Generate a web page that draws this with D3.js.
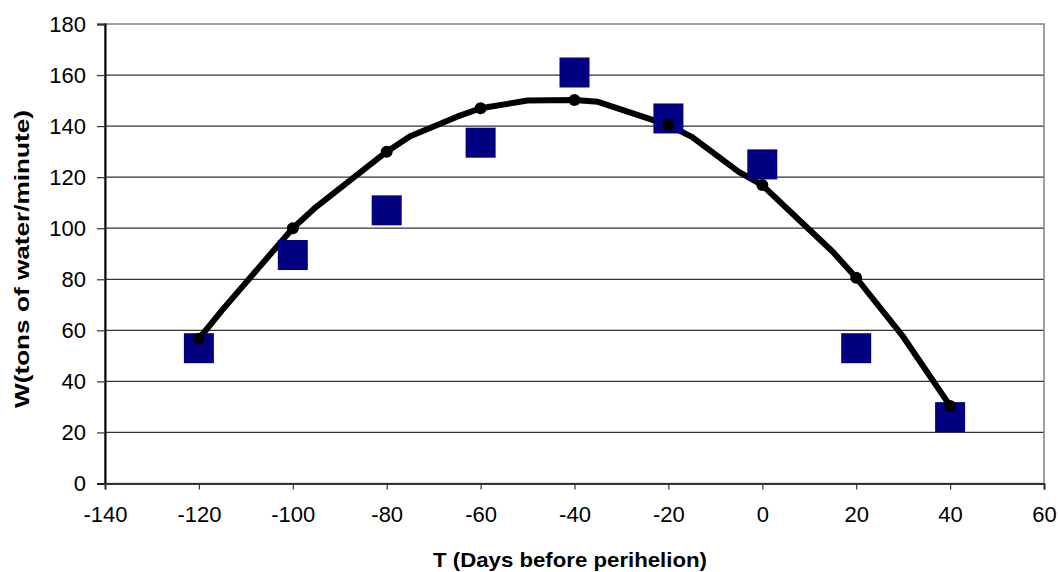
<!DOCTYPE html>
<html>
<head>
<meta charset="utf-8">
<script src="https://cdn.jsdelivr.net/npm/d3@7"></script>
<style>
  html, body { margin: 0; padding: 0; background: #fff; }
  svg { display: block; font-family: "Liberation Sans", Arial, sans-serif; }
</style>
</head>
<body>
<svg id="chart" width="1058" height="572"></svg>
<script>
// observed points (squares) and model points (dots)
const tDays = [-120, -100, -80, -60, -40, -20, 0, 20, 40];
const observedW = [53, 89.5, 107, 133.5, 161, 143, 125, 53, 26];
const modelW = [56.7, 100, 130, 147, 150.2, 140.4, 116.9, 80.6, 30.4];

// model curve vertices
const curveT = [-120, -115, -100, -95, -80, -75, -65, -60, -50, -40, -35, -20, -15, -5, 0, 15, 20, 30, 40];
const curveW = [56.7, 68, 100, 108.4, 130, 136, 143.7, 147, 150, 150.2, 149.5, 140.4, 135.8, 122.1, 116.9, 90.8, 80.6, 57.5, 30.4];

const xTicks = [-140, -120, -100, -80, -60, -40, -20, 0, 20, 40, 60];
const yTicks = [0, 20, 40, 60, 80, 100, 120, 140, 160, 180];

const margin = { left: 105, top: 24, right: 1044, bottom: 483.5 };

const svg = d3.select("#chart");

const x = d3.scaleLinear().domain([-140, 60]).range([margin.left, margin.right]);
const y = d3.scaleLinear().domain([0, 180]).range([margin.bottom, margin.top]);

// gridlines
svg.append("g")
    .selectAll("line")
    .data(yTicks.filter(d => d > 0 && d < 180))
    .enter()
    .append("line")
    .attr("x1", margin.left)
    .attr("x2", margin.right)
    .attr("y1", d => y(d))
    .attr("y2", d => y(d))
    .attr("stroke", "#333")
    .attr("stroke-width", 1.2);

// plot border
svg.append("rect")
    .attr("x", margin.left)
    .attr("y", margin.top)
    .attr("width", margin.right - margin.left)
    .attr("height", margin.bottom - margin.top)
    .attr("fill", "none")
    .attr("stroke", "#808080")
    .attr("stroke-width", 1.5);

// plain hyphen for negatives, like the original
const fmt = d => String(d);

// y axis
const yAxis = svg.append("g")
    .attr("transform", `translate(${margin.left},0)`)
    .call(d3.axisLeft(y).tickValues(yTicks).tickFormat(fmt).tickSize(8).tickPadding(11));
yAxis.select(".domain").attr("stroke", "#000").attr("stroke-width", 2);

// x axis
const xAxis = svg.append("g")
    .attr("transform", `translate(0,${margin.bottom})`)
    .call(d3.axisBottom(x).tickValues(xTicks).tickFormat(fmt).tickSize(6).tickPadding(17));
xAxis.select(".domain").attr("stroke", "#333").attr("stroke-width", 2);

svg.selectAll(".tick line").attr("stroke", "#333").attr("stroke-width", 1.2);
svg.selectAll(".tick text")
    .attr("font-family", "Liberation Sans, Arial, sans-serif")
    .attr("font-size", 22)
    .attr("fill", "#000");

// model line
const curve = curveT.map((t, i) => ({ t: t, w: curveW[i] }));
svg.append("path")
    .datum(curve)
    .attr("fill", "none")
    .attr("stroke", "#000")
    .attr("stroke-width", 6)
    .attr("stroke-linejoin", "round")
    .attr("d", d3.line().x(d => x(d.t)).y(d => y(d.w)));

// observed squares
const sq = 30;
svg.append("g")
    .selectAll("rect")
    .data(tDays)
    .enter()
    .append("rect")
    .attr("x", (d, i) => x(d) - sq / 2)
    .attr("y", (d, i) => y(observedW[i]) - sq / 2)
    .attr("width", sq)
    .attr("height", sq)
    .attr("fill", "#000080");

// model dots
svg.append("g")
    .selectAll("circle")
    .data(tDays)
    .enter()
    .append("circle")
    .attr("cx", d => x(d))
    .attr("cy", (d, i) => y(modelW[i]))
    .attr("r", 6)
    .attr("fill", "#000");

// axis titles
svg.append("text")
    .attr("x", 570)
    .attr("y", 566.5)
    .attr("text-anchor", "middle")
    .attr("font-size", 21)
    .attr("font-weight", "bold")
    .attr("textLength", 274)
    .attr("lengthAdjust", "spacingAndGlyphs")
    .text("T (Days before perihelion)");

svg.append("text")
    .attr("transform", "translate(29,259) rotate(-90)")
    .attr("text-anchor", "middle")
    .attr("font-size", 21)
    .attr("font-weight", "bold")
    .attr("textLength", 298)
    .attr("lengthAdjust", "spacingAndGlyphs")
    .text("W(tons of water/minute)");
</script>
</body>
</html>
